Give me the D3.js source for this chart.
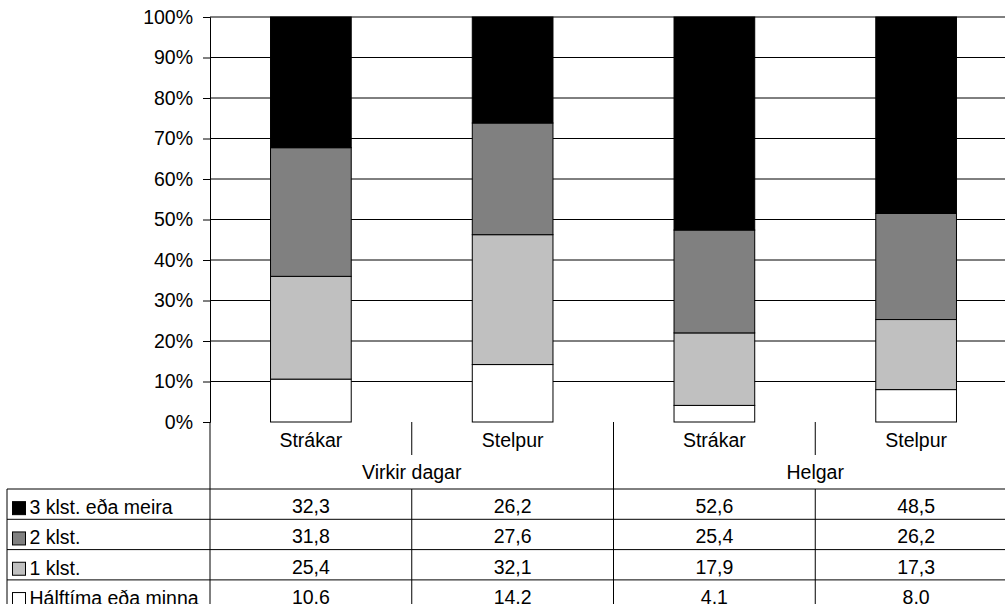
<!DOCTYPE html>
<html>
<head>
<meta charset="utf-8">
<script src="https://cdn.jsdelivr.net/npm/d3@7"></script>
<style>
  body { margin: 0; background: #fff; }
  svg { display: block; font-family: "Liberation Sans", Arial, sans-serif; }
  text { fill: #000; }
</style>
</head>
<body>
<svg width="1005" height="604"></svg>
<script>
var groups = ["Virkir dagar", "Helgar"];
var genders = ["Strákar", "Stelpur"];
var series = ["3 klst. eða meira", "2 klst.", "1 klst.", "Hálftíma eða minna"];
var threeOrMore = [32.3, 26.2, 52.6, 48.5];
var twoHours = [31.8, 27.6, 25.4, 26.2];
var oneHour = [25.4, 32.1, 17.9, 17.3];
var halfHour = [10.6, 14.2, 4.1, 8.0];
var colors = ["#000000", "#808080", "#c0c0c0", "#ffffff"];
var yTicks = [0, 0.1, 0.2, 0.3, 0.4, 0.5, 0.6, 0.7, 0.8, 0.9, 1];

var values = [threeOrMore, twoHours, oneHour, halfHour];

// one row per bar, built from the arrays above
var cats = [];
groups.forEach(function(g) {
    genders.forEach(function(s) { cats.push(g + "|" + s); });
});
var rows = cats.map(function(c, i) {
    var r = {key: c, group: c.split("|")[0], gender: c.split("|")[1]};
    series.forEach(function(s, j) { r[s] = values[j][i]; });
    return r;
});

var margin = {top: 17, left: 210},
    plotRight = 1017,
    plotBottom = 422,
    rowH = 30.3,
    fontSize = 19.5;

var svg = d3.select("svg");

var xCol = d3.scaleBand().domain(cats).range([margin.left, plotRight]);
var x = d3.scaleBand().domain(cats).range([margin.left, plotRight])
    .paddingInner(0.6).paddingOuter(0.3);
var y = d3.scaleLinear().domain([0, 1]).range([plotBottom, margin.top]);

// stack from the bottom: shortest time first
var stack = d3.stack().keys(series.slice().reverse()).offset(d3.stackOffsetExpand);
var stacked = stack(rows);
var color = d3.scaleOrdinal().domain(series).range(colors);

// grid lines
svg.append("g").selectAll("line")
    .data(yTicks.slice(1))
    .enter().append("line")
    .attr("x1", margin.left).attr("x2", plotRight)
    .attr("y1", function(d) { return y(d); })
    .attr("y2", function(d) { return y(d); })
    .attr("stroke", "#000").attr("stroke-width", 1);

// bars
svg.append("g").selectAll("g")
    .data(stacked)
    .enter().append("g")
    .attr("fill", function(d) { return color(d.key); })
    .selectAll("rect")
    .data(function(d) { return d; })
    .enter().append("rect")
    .attr("x", function(d) { return x(d.data.key); })
    .attr("y", function(d) { return y(d[1]); })
    .attr("width", x.bandwidth())
    .attr("height", function(d) { return y(d[0]) - y(d[1]); })
    .attr("stroke", "#000").attr("stroke-width", 1);

// y axis
var yAxis = svg.append("g")
    .attr("transform", "translate(" + margin.left + ",0)")
    .call(d3.axisLeft(y).tickValues(yTicks).tickFormat(d3.format(".0%")).tickSize(7).tickPadding(10));
yAxis.selectAll("text").style("font-size", fontSize + "px").style("font-family", "inherit").attr("fill", "#000");
yAxis.selectAll("line, path").attr("stroke", "#000");

// data table under the plot
var table = svg.append("g");
var tableTop = 489;
var rowY = d3.scaleBand().domain(series).range([tableTop, tableTop + rowH * series.length]);
var numFmt = d3.formatLocale({decimal: ",", thousands: ".", grouping: [3], currency: ["", ""]}).format(".1f");

function hline(x1, x2, yy) {
    table.append("line").attr("x1", x1).attr("x2", x2).attr("y1", yy).attr("y2", yy)
        .attr("stroke", "#000");
}
function vline(xx, y1, y2) {
    table.append("line").attr("x1", xx).attr("x2", xx).attr("y1", y1).attr("y2", y2)
        .attr("stroke", "#000");
}

// header: gender labels and group labels
table.selectAll("text.gender")
    .data(rows)
    .enter().append("text")
    .attr("class", "gender")
    .attr("x", function(d) { return xCol(d.key) + xCol.bandwidth() / 2; })
    .attr("y", 440)
    .attr("dy", "0.35em")
    .attr("text-anchor", "middle")
    .style("font-size", fontSize + "px")
    .text(function(d) { return d.gender; });

table.selectAll("text.group")
    .data(groups)
    .enter().append("text")
    .attr("class", "group")
    .attr("x", function(g) { return xCol(g + "|" + genders[0]) + xCol.bandwidth(); })
    .attr("y", 472)
    .attr("dy", "0.35em")
    .attr("text-anchor", "middle")
    .style("font-size", fontSize + "px")
    .text(function(g) { return g; });

// header separators
cats.forEach(function(c, i) {
    var left = xCol(c);
    if (i === 0) return;
    if (i % genders.length === 0) vline(left, plotBottom, tableTop);
    else vline(left, plotBottom, 455);
});

// row lines and column lines
hline(7, plotRight, tableTop);
series.forEach(function(s) { hline(7, plotRight, rowY(s) + rowY.bandwidth()); });
vline(7, tableTop, tableTop + rowH * series.length);
cats.forEach(function(c) { vline(xCol(c), tableTop, tableTop + rowH * series.length); });
vline(margin.left, plotBottom, tableTop);
vline(plotRight, plotBottom, tableTop + rowH * series.length);

// legend keys and labels in the row headers
var legend = table.selectAll("g.legend")
    .data(series)
    .enter().append("g")
    .attr("class", "legend")
    .attr("transform", function(s) { return "translate(0," + (rowY(s) + rowY.bandwidth() / 2) + ")"; });
legend.append("rect")
    .attr("x", 12.5).attr("y", -2.5).attr("width", 13).attr("height", 13)
    .attr("fill", function(s) { return color(s); })
    .attr("stroke", "#000");
legend.append("text")
    .attr("x", 29.5).attr("y", 3)
    .attr("dy", "0.35em")
    .style("font-size", fontSize + "px")
    .text(function(s) { return s; });

// cell values
series.forEach(function(s) {
    table.selectAll(null)
        .data(rows)
        .enter().append("text")
        .attr("x", function(d) { return xCol(d.key) + xCol.bandwidth() / 2; })
        .attr("y", rowY(s) + rowY.bandwidth() / 2 + 2)
        .attr("dy", "0.35em")
        .attr("text-anchor", "middle")
        .style("font-size", fontSize + "px")
        .text(function(d) { return numFmt(d[s]); });
});
</script>
</body>
</html>
